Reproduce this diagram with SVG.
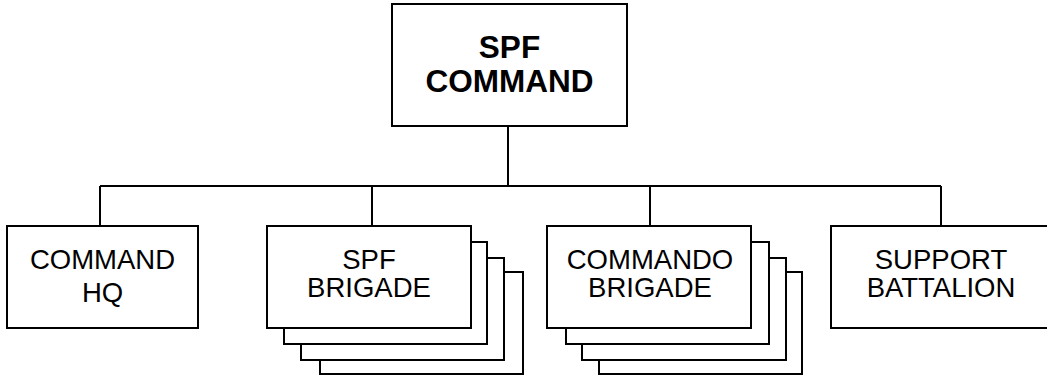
<svg xmlns="http://www.w3.org/2000/svg" width="1047" height="378" viewBox="0 0 1047 378">
<style>
.box{fill:#fff;stroke:#000;stroke-width:2}
.ln{fill:none;stroke:#000;stroke-width:2}
.t{font-family:"Liberation Sans",Arial,sans-serif;font-size:27.5px;text-anchor:middle;fill:#000}
.tb{font-family:"Liberation Sans",Arial,sans-serif;font-size:31.5px;font-weight:bold;text-anchor:middle;fill:#000}
</style>
<rect width="1047" height="378" fill="#fff"/>
<g id="connectors">
<path class="ln" d="M508,126 V186 M100,186 H941 M100,186 V226 M372,186 V226 M650,186 V226 M941,186 V226"/>
</g>
<g id="spf-command">
<rect class="box" x="392" y="4" width="235" height="122"/>
<text class="tb" x="509.5" y="58">SPF</text>
<text class="tb" x="509.5" y="92">COMMAND</text>
</g>
<g id="command-hq">
<rect class="box" x="7" y="226" width="191" height="102"/>
<text class="t" x="102.5" y="269">COMMAND</text>
<text class="t" x="102.5" y="302">HQ</text>
</g>
<g id="spf-brigade">
<rect class="box" x="320" y="272" width="203" height="102"/>
<rect class="box" x="301" y="258" width="203" height="102"/>
<rect class="box" x="284" y="242" width="203" height="102"/>
<rect class="box" x="267" y="226" width="204" height="102"/>
<text class="t" x="369" y="269">SPF</text>
<text class="t" x="369" y="297">BRIGADE</text>
</g>
<g id="commando-brigade">
<rect class="box" x="599" y="272" width="203" height="102"/>
<rect class="box" x="582" y="258" width="204" height="102"/>
<rect class="box" x="566" y="242" width="203" height="102"/>
<rect class="box" x="547" y="226" width="204" height="102"/>
<text class="t" x="650" y="269">COMMANDO</text>
<text class="t" x="650" y="297">BRIGADE</text>
</g>
<g id="support-battalion">
<rect class="box" x="831" y="226" width="230" height="102"/>
<text class="t" x="941" y="269">SUPPORT</text>
<text class="t" x="941" y="297">BATTALION</text>
</g>
</svg>
